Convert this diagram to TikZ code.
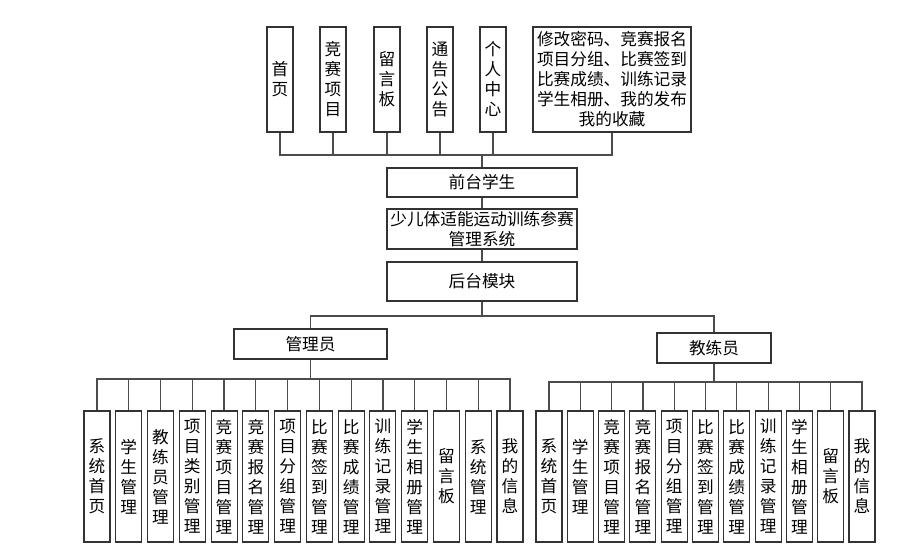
\documentclass[tikz,border=0pt]{standalone}
\usepackage{fontspec}
\setmainfont{Noto Sans CJK SC}
\usepackage{tikz}
\usetikzlibrary{positioning}
\tikzset{
  mbox/.style={rectangle, draw=black!80, line width=0.8pt, inner sep=0pt,
               align=center, font=\fontsize{12.5}{15}\selectfont},
  topbox/.style={mbox, minimum width=19.5pt, minimum height=78.75pt},
  leafbox/.style={mbox, minimum width=19.5pt, minimum height=98.25pt},
  midbox/.style={mbox, minimum width=142.5pt},
  rolebox/.style={mbox, minimum height=22.5pt},
  conn/.style={line width=0.9pt, black!70},
}

\begin{document}
\begin{tikzpicture}[x=0.75pt, y=-0.75pt]
  \useasboundingbox (0,0) rectangle (915,551);
  % front part
  \foreach \t/\x [count=\i] in {首\\页/280, 竞\\赛\\项\\目/333, 留\\言\\板/387,
                                通\\告\\公\\告/440, 个\\人\\中\\心/493} {
    \node[topbox] (t\i) at (\x,79.5) {\t};
  }
  \node[mbox, minimum width=118.5pt, minimum height=78.75pt] (t6) at (612,79.5)
    {修改密码、竞赛报名\\项目分组、比赛签到\\比赛成绩、训练记录\\学生相册、我的发布\\我的收藏};
  \coordinate (fbus) at (482,155);
  \node[midbox, minimum height=21.75pt] (front) at (482,182.5) {前台学生};
  \foreach \i in {1,...,6} {\draw[conn] (t\i.south) |- (fbus) -- (front.north);}
  % system and back part
  \node[midbox, minimum height=30pt] (sys) at (482,229) {少儿体适能运动训练参赛\\管理系统};
  \node[midbox, minimum height=29.25pt] (back) at (482,281.5) {后台模块};
  \draw[conn] (front) -- (sys);
  \draw[conn] (sys) -- (back);
  \coordinate (bbus) at (482,316);
  \node[rolebox, minimum width=114.75pt] (adm) at (310.5,344) {管理员};
  \node[rolebox, minimum width=85.5pt] (coach) at (714,348) {教练员};
  \draw[conn] (back.south) -- (bbus) -| (adm.north);
  \draw[conn] (back.south) -- (bbus) -| (coach.north);
  % admin leaves
  \coordinate (abus) at (310.5,379);
  \foreach \t [count=\i] in {系\\统\\首\\页, 学\\生\\管\\理, 教\\练\\员\\管\\理,
      项\\目\\类\\别\\管\\理, 竞\\赛\\项\\目\\管\\理, 竞\\赛\\报\\名\\管\\理,
      项\\目\\分\\组\\管\\理, 比\\赛\\签\\到\\管\\理, 比\\赛\\成\\绩\\管\\理,
      训\\练\\记\\录\\管\\理, 学\\生\\相\\册\\管\\理, 留\\言\\板,
      系\\统\\管\\理, 我\\的\\信\\息} {
    \node[leafbox] (a\i) at ({97+31.77*(\i-1)},476.5) {\t};
    \draw[conn] (adm.south) -- (adm.south |- abus) -| (a\i.north);
  }
  % coach leaves
  \coordinate (cbus) at (714,382);
  \foreach \t [count=\i] in {系\\统\\首\\页, 学\\生\\管\\理,
      竞\\赛\\项\\目\\管\\理, 竞\\赛\\报\\名\\管\\理, 项\\目\\分\\组\\管\\理,
      比\\赛\\签\\到\\管\\理, 比\\赛\\成\\绩\\管\\理, 训\\练\\记\\录\\管\\理,
      学\\生\\相\\册\\管\\理, 留\\言\\板, 我\\的\\信\\息} {
    \node[leafbox] (c\i) at ({549+31.3*(\i-1)},476.5) {\t};
    \draw[conn] (coach.south) -- (coach.south |- cbus) -| (c\i.north);
  }
\end{tikzpicture}
\end{document}
